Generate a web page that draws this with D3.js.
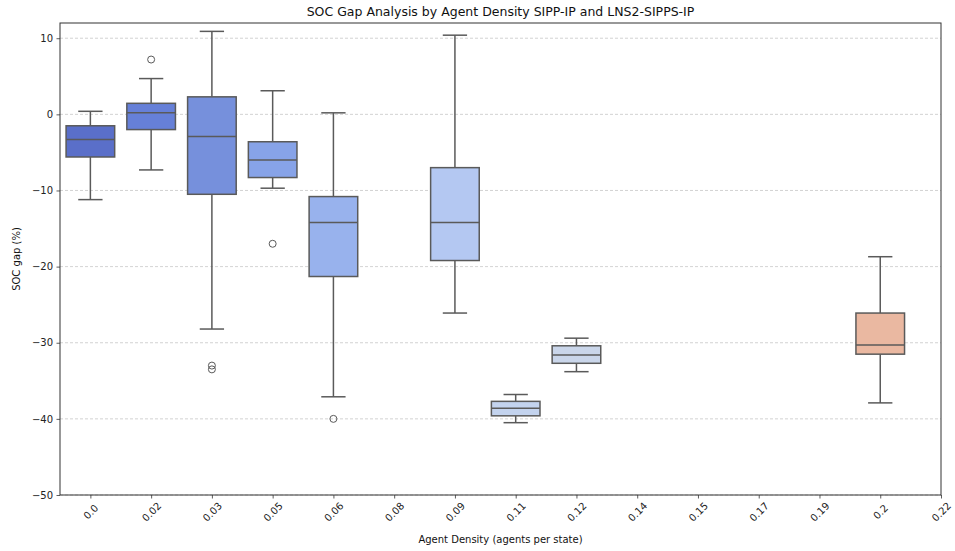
<!DOCTYPE html>
<html>
<head>
<meta charset="utf-8">
<script src="https://cdn.jsdelivr.net/npm/d3@7"></script>
<style>
  body { margin: 0; background: #fff; }
  svg { font-family: "DejaVu Sans", sans-serif; }
</style>
</head>
<body>
<svg id="chart" width="955" height="551"></svg>
<script>
// agent density categories (x axis)
const categories = ["0.0", "0.02", "0.03", "0.05", "0.06", "0.08", "0.09", "0.11",
  "0.12", "0.14", "0.15", "0.17", "0.19", "0.2", "0.22"];

// box statistics per category, null where there is no data
const whiskerHigh = [0.4, 4.7, 10.9, 3.1, 0.2, null, 10.4, -36.8, -29.4, null, null, null, null, -18.7, null];
const q3 = [-1.5, 1.45, 2.3, -3.6, -10.8, null, -7.0, -37.7, -30.4, null, null, null, null, -26.1, null];
const median = [-3.3, 0.2, -2.9, -6.0, -14.2, null, -14.2, -38.6, -31.6, null, null, null, null, -30.3, null];
const q1 = [-5.6, -2.0, -10.5, -8.3, -21.3, null, -19.2, -39.6, -32.7, null, null, null, null, -31.5, null];
const whiskerLow = [-11.2, -7.3, -28.2, -9.7, -37.1, null, -26.1, -40.5, -33.8, null, null, null, null, -37.9, null];
const outliers = [[], [7.2], [-33.0, -33.5], [-17.0], [-40.0], [], [], [], [], [], [], [], [], [], []];

const yTicks = [-50, -40, -30, -20, -10, 0, 10];

// coolwarm palette as seen in the figure
const palette = ["#5a6fc9", "#6680d8", "#7690dc", "#87a3e8", "#98b2ed", "#a9c0f0", "#b4c8f2",
  "#c3d3ee", "#cad6ea", "#d8d4d0", "#e3ccc0", "#e8c3b0", "#eabda8", "#eab8a1", "#e9ad92"];

const margin = { left: 60, right: 14, top: 23, bottom: 56 };
const width = 955, height = 551;
const svg = d3.select("#chart");

const x = d3.scaleLinear().domain([-0.5, 14]).range([margin.left, width - margin.right]);
const y = d3.scaleLinear().domain([-50, 12]).range([height - margin.bottom, margin.top]);
const step = x(1) - x(0);
const boxW = step * 0.8;

// grid
svg.append("g")
  .selectAll("line")
  .data(yTicks)
  .join("line")
  .attr("x1", margin.left)
  .attr("x2", width - margin.right)
  .attr("y1", (d) => y(d))
  .attr("y2", (d) => y(d))
  .attr("stroke", "#c8c8c8")
  .attr("stroke-width", 0.8)
  .attr("stroke-dasharray", "3,2");

const idx = d3.range(categories.length).filter((i) => median[i] !== null);
const edge = "#5a5a5a";
const boxes = svg.append("g").selectAll("g").data(idx).join("g");

boxes.append("line")
  .attr("x1", (i) => x(i)).attr("x2", (i) => x(i))
  .attr("y1", (i) => y(whiskerHigh[i])).attr("y2", (i) => y(q3[i]))
  .attr("stroke", edge).attr("stroke-width", 1.5);
boxes.append("line")
  .attr("x1", (i) => x(i)).attr("x2", (i) => x(i))
  .attr("y1", (i) => y(q1[i])).attr("y2", (i) => y(whiskerLow[i]))
  .attr("stroke", edge).attr("stroke-width", 1.5);
boxes.append("line")
  .attr("x1", (i) => x(i) - boxW / 4).attr("x2", (i) => x(i) + boxW / 4)
  .attr("y1", (i) => y(whiskerHigh[i])).attr("y2", (i) => y(whiskerHigh[i]))
  .attr("stroke", edge).attr("stroke-width", 1.5);
boxes.append("line")
  .attr("x1", (i) => x(i) - boxW / 4).attr("x2", (i) => x(i) + boxW / 4)
  .attr("y1", (i) => y(whiskerLow[i])).attr("y2", (i) => y(whiskerLow[i]))
  .attr("stroke", edge).attr("stroke-width", 1.5);
boxes.append("rect")
  .attr("x", (i) => x(i) - boxW / 2)
  .attr("width", boxW)
  .attr("y", (i) => y(q3[i]))
  .attr("height", (i) => y(q1[i]) - y(q3[i]))
  .attr("fill", (i) => palette[i])
  .attr("stroke", edge).attr("stroke-width", 1.5);
boxes.append("line")
  .attr("x1", (i) => x(i) - boxW / 2).attr("x2", (i) => x(i) + boxW / 2)
  .attr("y1", (i) => y(median[i])).attr("y2", (i) => y(median[i]))
  .attr("stroke", edge).attr("stroke-width", 1.5);
boxes.selectAll("circle")
  .data((i) => outliers[i].map((v) => [i, v]))
  .join("circle")
  .attr("cx", (d) => x(d[0]))
  .attr("cy", (d) => y(d[1]))
  .attr("r", 3.5)
  .attr("fill", "none")
  .attr("stroke", edge)
  .attr("stroke-width", 1);

// axes
const yAxis = svg.append("g")
  .attr("transform", `translate(${margin.left},0)`)
  .call(d3.axisLeft(y).tickValues(yTicks).tickSize(3.5).tickPadding(3.5)
    .tickFormat((d) => (d < 0 ? "\u2212" + Math.abs(d) : d)));
const xAxis = svg.append("g")
  .attr("transform", `translate(0,${height - margin.bottom})`)
  .call(d3.axisBottom(x).tickValues(d3.range(categories.length)).tickSize(3.5)
    .tickFormat((i) => categories[i]));
[xAxis, yAxis].forEach((a) => {
  a.select(".domain").remove();
  a.selectAll(".tick line").attr("stroke", "#333").attr("stroke-width", 0.8);
  a.selectAll("text").attr("font-size", 10).attr("fill", "#222");
  a.attr("font-family", null);
});
xAxis.selectAll(".tick text")
  .attr("text-anchor", "middle")
  .attr("dy", null)
  .attr("y", 0)
  .attr("transform", "translate(0,17) rotate(-45)")
  .attr("dominant-baseline", "central");

// frame
svg.append("rect")
  .attr("x", margin.left).attr("y", margin.top)
  .attr("width", width - margin.left - margin.right)
  .attr("height", height - margin.top - margin.bottom)
  .attr("fill", "none").attr("stroke", "#333").attr("stroke-width", 1);

svg.append("text")
  .attr("x", (margin.left + width - margin.right) / 2)
  .attr("y", 16)
  .attr("text-anchor", "middle")
  .attr("font-size", 12.5)
  .attr("fill", "#111")
  .text("SOC Gap Analysis by Agent Density SIPP-IP and LNS2-SIPPS-IP");
svg.append("text")
  .attr("x", (margin.left + width - margin.right) / 2)
  .attr("y", 543)
  .attr("text-anchor", "middle")
  .attr("font-size", 10)
  .attr("fill", "#111")
  .text("Agent Density (agents per state)");
svg.append("text")
  .attr("transform", `translate(20,${(margin.top + height - margin.bottom) / 2}) rotate(-90)`)
  .attr("text-anchor", "middle")
  .attr("font-size", 10)
  .attr("fill", "#111")
  .text("SOC gap (%)");
</script>
</body>
</html>
